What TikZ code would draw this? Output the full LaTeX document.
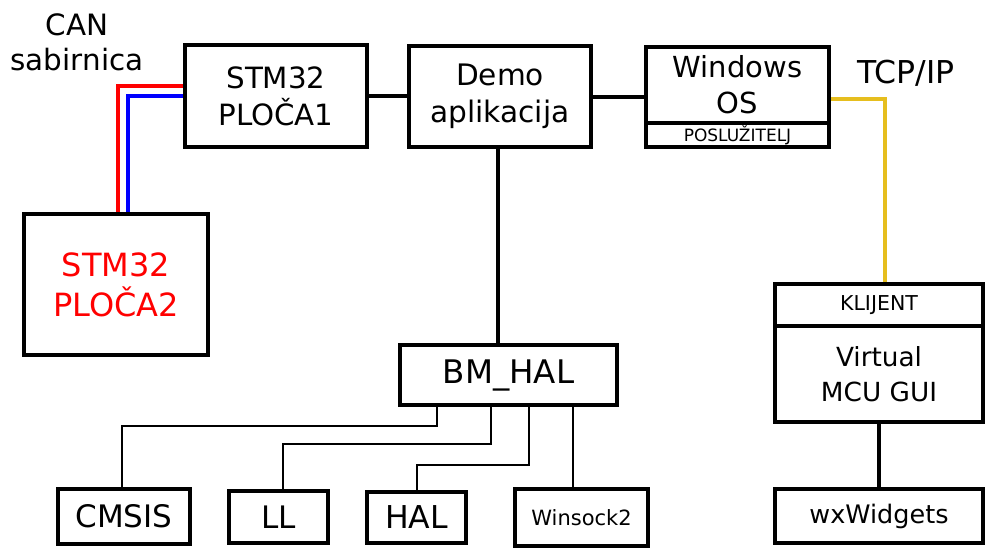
\documentclass[tikz,border=0pt]{standalone}
\usepackage{fontspec}
\setmainfont{DejaVu Sans}
\usetikzlibrary{positioning, calc}
\definecolor{canhigh}{HTML}{FF0000}
\definecolor{canlow}{HTML}{0000FF}
\definecolor{tcpwire}{HTML}{E6BE1E}

\begin{document}
\begin{tikzpicture}[x=1pt, y=-1pt,
    block/.style={rectangle, draw=black, line width=4.5pt, fill=white, inner sep=0pt,
                  align=center, font=\fontsize{29.3}{37}\selectfont},
    bus/.style={line width=4pt},
    link/.style={line width=2pt},
    canwire/.style={line width=4pt},
    note/.style={align=center, font=\fontsize{29.4}{35}\selectfont}
  ]
    \useasboundingbox (0,0) rectangle (989,560);

    % Boards
    \node[block, minimum width=182pt, minimum height=102pt] (ploca1) at (276,96) {STM32\\PLOČA1};
    \node[block, minimum width=184pt, minimum height=141pt, text=canhigh,
          font=\fontsize{32}{40}\selectfont] (ploca2) at (116,284.5) {STM32\\PLOČA2};

    % Application and host
    \node[block, minimum width=182pt, minimum height=101pt,
          font=\fontsize{29.6}{37}\selectfont] (demo) at (500,96.5) {Demo\\aplikacija};
    \node[block, minimum width=183pt, minimum height=76pt,
          font=\fontsize{29}{36}\selectfont] (windows) at (737.5,85) {Windows\\OS};
    \node[block, minimum width=183pt, minimum height=24pt, font=\fontsize{17}{18}\selectfont,
          below=-4.5pt of windows] (server) {POSLUŽITELJ};

    % Client side
    \node[block, minimum width=208pt, minimum height=42pt, font=\fontsize{20.5}{22}\selectfont]
      (klijent) at (879,305) {KLIJENT};
    \node[block, minimum width=208pt, minimum height=96pt, font=\fontsize{26.3}{35}\selectfont,
          below=-4.5pt of klijent] (vmcu) {Virtual\\MCU GUI};
    \node[block, minimum width=208pt, minimum height=54pt, font=\fontsize{25.5}{30}\selectfont]
      (wx) at (879,516) {wxWidgets};

    % Libraries
    \node[block, minimum width=217pt, minimum height=60pt, font=\fontsize{32.5}{36}\selectfont]
      (bmhal) at (508.5,375) {BM\_HAL};
    \node[block, minimum width=132pt, minimum height=55pt, font=\fontsize{31}{33}\selectfont]
      (cmsis) at (124,516.5) {CMSIS};
    \node[block, minimum width=99pt, minimum height=52pt, font=\fontsize{31}{33}\selectfont]
      (ll) at (278.5,517) {LL};
    \node[block, minimum width=99pt, minimum height=51pt, font=\fontsize{31.5}{34}\selectfont]
      (hal) at (416.5,517.5) {HAL};
    \node[block, minimum width=133pt, minimum height=57pt, font=\fontsize{21}{23}\selectfont]
      (winsock) at (581.5,517.5) {Winsock2};

    % Labels
    \node[note] (canlabel) at (77,42) {CAN\\sabirnica};
    \node[note, anchor=base, font=\fontsize{31.5}{34}\selectfont] (tcplabel) at (906,83) {TCP/IP};

    % CAN bus
    \draw[canwire, canhigh] ([yshift=10pt]ploca1.west) -| ([xshift=2pt]ploca2.north);
    \draw[canwire, canlow] (ploca1.west) -| ([xshift=12pt]ploca2.north);

    % Main links
    \draw[bus] (ploca1.east) -- (ploca1.east -| demo.west);
    \draw[bus] (demo.east) -- (demo.east -| windows.west);
    \draw[bus] ([xshift=-2pt]demo.south) -- ([xshift=-2pt]demo.south |- bmhal.north);
    \draw[bus] (vmcu.south) -- (wx.north);
    \draw[bus, tcpwire] ([yshift=-14pt]windows.east) -| ([xshift=6pt]klijent.north);

    % BM_HAL branches
    \draw[link] ([xshift=-72pt]bmhal.south) -- ++(0,19) -| ([xshift=-2pt]cmsis.north);
    \draw[link] ([xshift=-18pt]bmhal.south) -- ++(0,37) -| ([xshift=4pt]ll.north);
    \draw[link] ([xshift=20pt]bmhal.south) -- ++(0,58) -| (hal.north);
    \draw[link] ([xshift=64pt]bmhal.south) -- ([xshift=-9pt]winsock.north);
\end{tikzpicture}
\end{document}
